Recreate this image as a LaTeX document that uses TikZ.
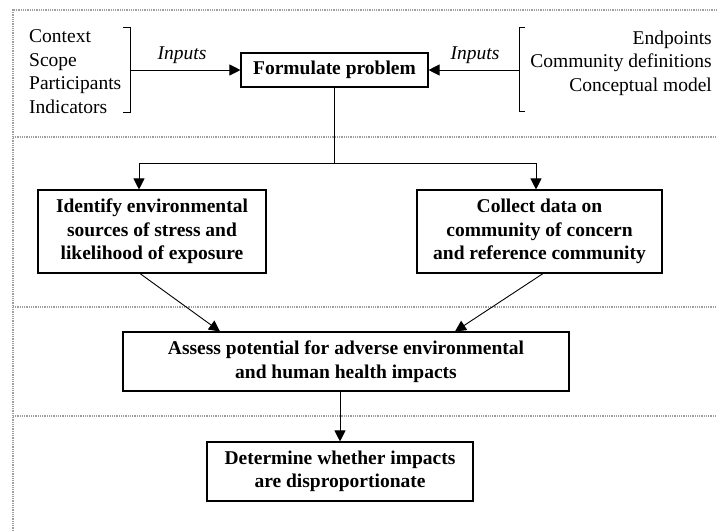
\documentclass[tikz,border=0pt]{standalone}
\usepackage{fontspec}
\setmainfont{Liberation Serif}
\usetikzlibrary{arrows.meta,calc}
\begin{document}
\begin{tikzpicture}[x=1pt,y=-1pt,
  every node/.style={font=\fontsize{19.5}{23.5}\selectfont},
  box/.style={draw,line width=1.1pt,inner sep=0pt,align=center,font=\fontsize{19.5}{23.5}\selectfont\bfseries},
  conn/.style={line width=0.9pt},
  arr/.style={conn,-{Triangle[length=11pt,width=11pt]}},
  sep/.style={gray!75,line width=1.3pt,dash pattern=on 0.9pt off 0.9pt},
  lbl/.style={font=\fontsize{19.5}{23.5}\selectfont\itshape,inner sep=0pt}]
\useasboundingbox (0,0) rectangle (717,531);
% separators
\draw[sep] (13,531) -- (13,10) -- (717,10);
\draw[sep] (13,137) -- (717,137);
\draw[sep] (13,307) -- (717,307);
\draw[sep] (13,416) -- (717,416);
% boxes
\node[box,minimum width=187pt,minimum height=34pt] (form) at (334.5,70) {Formulate problem};
\node[box,minimum width=228pt,minimum height=83pt] (ident) at (152,231.5) {Identify environmental\\sources of stress and\\likelihood of exposure};
\node[box,minimum width=245pt,minimum height=83pt] (coll) at (539.5,231.5) {Collect data on\\community of concern\\and reference community};
\node[box,minimum width=446pt,minimum height=59pt] (assess) at (346,361.5) {Assess potential for adverse environmental\\and human health impacts};
\node[box,minimum width=266pt,minimum height=59pt] (det) at (340,471.5) {Determine whether impacts\\are disproportionate};
% input lists
\node[align=left,anchor=west,inner sep=0pt] (inl) at (29,71.5) {Context\\Scope\\Participants\\Indicators};
\node[align=right,anchor=east,inner sep=0pt] (inr) at (712,63) {Endpoints\\Community definitions\\Conceptual model};
% brackets
\coordinate (bl) at (130,70);
\coordinate (br) at (519,70);
\draw[conn] (123,27) -- (130,27) -- (130,112) -- (123,112);
\draw[conn] (525,27) -- (519,27) -- (519,111) -- (525,111);
\draw[arr] (bl) -- (form.west);
\draw[arr] (br) -- (form.east);
\node[lbl] (inpl) at (182,55) {Inputs};
\node[lbl] (inpr) at (475,55) {Inputs};
% split
\coordinate (j) at (334,163);
\coordinate (jl) at (139,163);
\coordinate (jr) at (536,163);
\draw[conn] (form.south -| j) -- (j);
\draw[arr] (j) -- (jl) -- (jl |- ident.north);
\draw[arr] (j) -- (jr) -- (jr |- coll.north);
% converge
\draw[arr] ($(ident.south)+(-12,0)$) -- ($(assess.north)+(-126,0)$);
\draw[arr] ($(coll.south)+(3.5,0)$) -- ($(assess.north)+(109,0)$);
\draw[arr] (assess.south -| det.north) -- (det.north);
\end{tikzpicture}
\end{document}
